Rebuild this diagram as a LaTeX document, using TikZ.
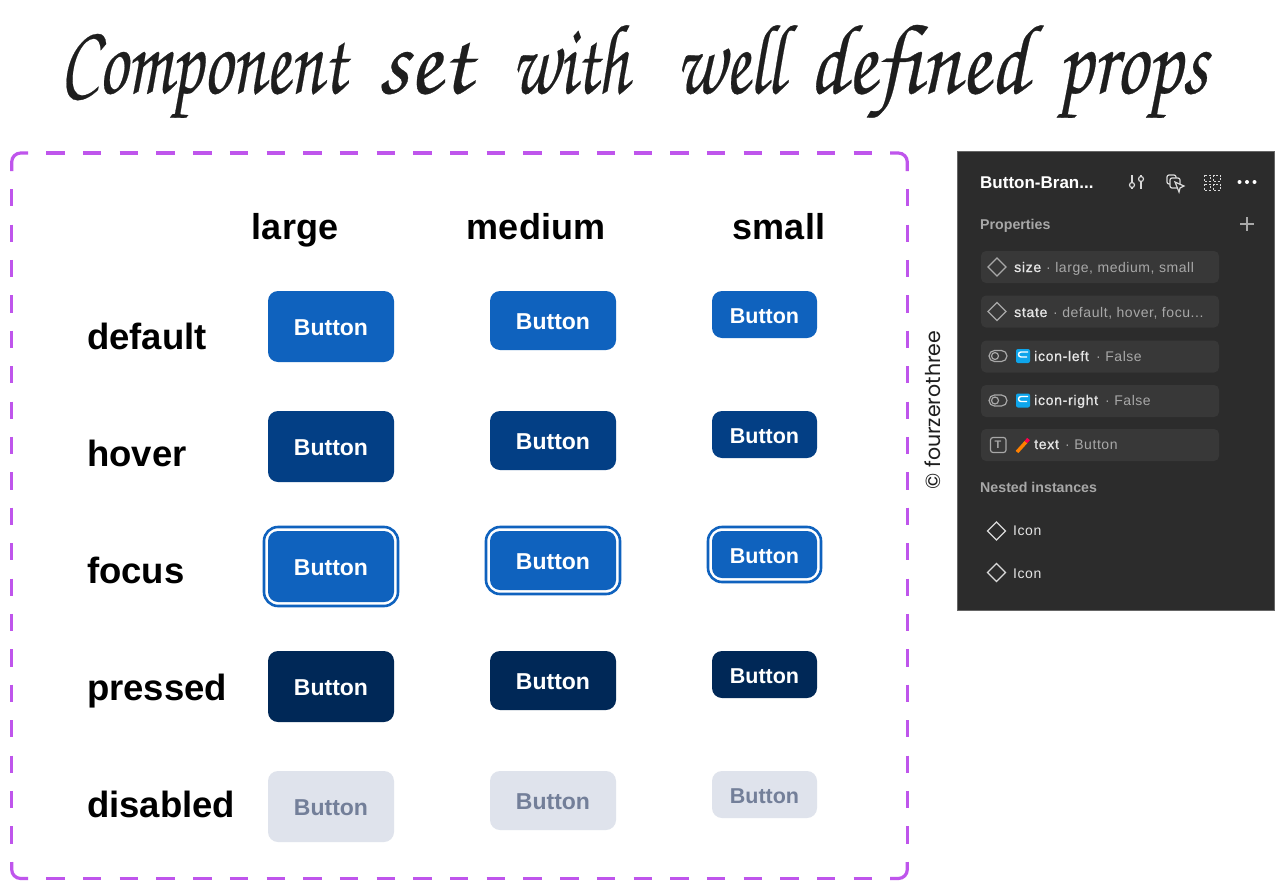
\documentclass[tikz,border=0pt]{standalone}
\usepackage{fontspec}
\setmainfont{Liberation Sans}
\newfontfamily\valfont{Liberation Sans}[LetterSpace=4]
\newfontfamily\namefont{Liberation Sans}[LetterSpace=5,FakeBold=1]
\newfontfamily\handfont{TeX Gyre Chorus}[FakeBold=0.3]
\newfontfamily\creditfont{Poppins}
\usetikzlibrary{positioning, shapes.geometric}
\definecolor{btnDefault}{HTML}{0F62BE}
\definecolor{btnHover}{HTML}{033F85}
\definecolor{btnPressed}{HTML}{002857}
\definecolor{btnDisabled}{HTML}{DFE3EC}
\definecolor{txtDisabled}{HTML}{737F99}
\definecolor{dashPurple}{HTML}{BF55EC}
\definecolor{panelBg}{HTML}{2C2C2C}
\definecolor{panelRow}{HTML}{383838}
\definecolor{panelGrey}{HTML}{A8A8A8}
\definecolor{inkBlack}{HTML}{1E1E1E}
\definecolor{chipBlue}{HTML}{0EA5EB}
\tikzset{
  btnbase/.style={inner sep=0pt,rounded corners=10pt,text=white,text height=18.8pt,text depth=0pt},
  btnlarge/.style={btnbase,minimum width=126pt,minimum height=71pt,font=\bfseries\fontsize{23}{23}\selectfont},
  btnmedium/.style={btnbase,minimum width=126pt,minimum height=59pt,font=\bfseries\fontsize{23}{23}\selectfont},
  btnsmall/.style={btnbase,text height=17.4pt,minimum width=105pt,minimum height=47pt,font=\bfseries\fontsize{21.5}{22}\selectfont},
  ringlarge/.style={btnlarge,minimum width=134pt,minimum height=79pt,rounded corners=14pt,fill=white,draw=btnDefault,line width=2.6pt},
  ringmedium/.style={btnmedium,minimum width=134pt,minimum height=67pt,rounded corners=14pt,fill=white,draw=btnDefault,line width=2.6pt},
  ringsmall/.style={btnsmall,minimum width=113pt,minimum height=55pt,rounded corners=14pt,fill=white,draw=btnDefault,line width=2.6pt},
  frameline/.style={dashPurple,line width=3.2pt},
  framehoriz/.style={frameline,dash pattern=on 18.4pt off 18.3pt,dash phase=18.4pt},
  framevert/.style={frameline,dash pattern=on 17.3pt off 18.1pt,dash phase=17.3pt},
  headlabel/.style={inner sep=0pt,anchor=base,text=black,font=\bfseries\fontsize{36}{36}\selectfont},
  rowlabel/.style={inner sep=0pt,anchor=base west,text=black,font=\bfseries\fontsize{36.5}{36}\selectfont},
  panelrow/.style={fill=panelRow,rounded corners=5pt,inner sep=0pt,minimum width=238pt,minimum height=32pt},
  panelhead/.style={inner sep=0pt,anchor=base west,text=panelGrey,font=\bfseries\fontsize{14.2}{14}\selectfont},
  propname/.style={inner sep=0pt,anchor=base west,text=white!90!black,font=\namefont\fontsize{14}{14}\selectfont},
  propval/.style={inner sep=0pt,anchor=base west,text=panelGrey,font=\valfont\fontsize{14}{14}\selectfont},
  propdia/.style={diamond,draw=panelGrey,line width=1.2pt,inner sep=0pt,minimum size=18.5pt},
  panelicon/.style={draw=white!85!black,line width=1.2pt},
  iconchip/.style={fill=chipBlue,rounded corners=2pt,inner sep=0pt,minimum size=14pt}
}
\begin{document}
\begin{tikzpicture}[x=1pt,y=-1pt]
    \useasboundingbox (0,0) rectangle (1283,889);
    \fill[white] (0,0) rectangle (1283,889);
    \node (title) at (60,93)[inner sep=0pt,anchor=base west,text=inkBlack,font=\handfont\fontsize{100}{100}\selectfont]{\scalebox{.723}[1]{Component}\hspace{32pt}\scalebox{.956}[1]{set}\hspace{40pt}\scalebox{.697}[1]{with}\hspace{48pt}\scalebox{.719}[1]{well}\hspace{25pt}\scalebox{.861}[1]{defined}\hspace{30pt}\scalebox{.797}[1]{props}};

    \draw[framehoriz] (28,153)--(890,153);
    \draw[framehoriz] (28,878.5)--(890,878.5);
    \draw[framevert] (11.7,171)--(11.7,862);
    \draw[framevert] (907.3,171)--(907.3,862);
    \draw[frameline,rounded corners=9pt] (11.7,171)--(11.7,153)--(28,153) (890,153)--(907.3,153)--(907.3,171) (907.3,862)--(907.3,878.5)--(890,878.5) (28,878.5)--(11.7,878.5)--(11.7,862);

    \node (headLarge) at (295,239)[headlabel]{large};
    \node (headMedium) at (536,239)[headlabel]{medium};
    \node (headSmall) at (779,239)[headlabel]{small};
    \node (rowDefault) at (87,349)[rowlabel]{default};
    \node (rowHover) at (87,466)[rowlabel]{hover};
    \node (rowFocus) at (87,583)[rowlabel]{focus};
    \node (rowPressed) at (87,700)[rowlabel]{pressed};
    \node (rowDisabled) at (87,817)[rowlabel]{disabled};

    \node (defaultL) at (331,326.5)[btnlarge,fill=btnDefault]{Button};
    \node (defaultM) at (553,320.5)[btnmedium,fill=btnDefault]{Button};
    \node (defaultS) at (764.5,314.5)[btnsmall,fill=btnDefault]{Button};
    \node (hoverL) at (331,446.5)[btnlarge,fill=btnHover]{Button};
    \node (hoverM) at (553,440.5)[btnmedium,fill=btnHover]{Button};
    \node (hoverS) at (764.5,434.5)[btnsmall,fill=btnHover]{Button};
    \node (ringL) at (331,566.5)[ringlarge]{};
    \node (ringM) at (553,560.5)[ringmedium]{};
    \node (ringS) at (764.5,554.5)[ringsmall]{};
    \node (focusL) at (331,566.5)[btnlarge,fill=btnDefault]{Button};
    \node (focusM) at (553,560.5)[btnmedium,fill=btnDefault]{Button};
    \node (focusS) at (764.5,554.5)[btnsmall,fill=btnDefault]{Button};
    \node (pressedL) at (331,686.5)[btnlarge,fill=btnPressed]{Button};
    \node (pressedM) at (553,680.5)[btnmedium,fill=btnPressed]{Button};
    \node (pressedS) at (764.5,674.5)[btnsmall,fill=btnPressed]{Button};
    \node (disabledL) at (331,806.5)[btnlarge,fill=btnDisabled,text=txtDisabled]{Button};
    \node (disabledM) at (553,800.5)[btnmedium,fill=btnDisabled,text=txtDisabled]{Button};
    \node (disabledS) at (764.5,794.5)[btnsmall,fill=btnDisabled,text=txtDisabled]{Button};

    \node (credit) at (933,410)[rotate=90,inner sep=0pt,text=inkBlack,font=\creditfont\fontsize{20.5}{20}\selectfont]{© fourzerothree};

    \draw[fill=panelBg,draw=black!60,line width=1pt] (957.5,151) rectangle (1274,610);
    \node (panelTitle) at (980,188)[propname,text=white,font=\bfseries\fontsize{17}{17}\selectfont]{Button-Bran...};
    \draw[panelicon] (1132,175)--(1132,189) (1141,175)--(1141,189);
    \draw[panelicon,fill=panelBg] (1132,185) circle (2.5) (1141,179) circle (2.5);
    \draw[panelicon,rounded corners=2pt] (1167,175) rectangle (1176,184);
    \draw[panelicon,rounded corners=2pt,fill=panelBg] (1170,178) rectangle (1180,188);
    \draw[panelicon,fill=panelBg] (1175,182)--(1184,186)--(1180,188)--(1179,192)--cycle;
    \draw[panelicon,dash pattern=on 2pt off 1.5pt,line width=1pt] (1204,175) rectangle (1210,181) (1213,175) rectangle (1220,181) (1204,184) rectangle (1210,190) (1213,184) rectangle (1220,190);
    \fill[white] (1239.5,182) circle (2) (1247,182) circle (2) (1254.5,182) circle (2);

    \node (propsHead) at (980,229)[panelhead]{Properties};
    \draw[panelGrey,line width=1.3pt] (1240,224)--(1254,224) (1247,217)--(1247,231);

    \node (rowSize) at (1100,267)[panelrow]{};
    \node (rowState) at (1100,311.5)[panelrow]{};
    \node (rowLeft) at (1100,356.5)[panelrow]{};
    \node (rowRight) at (1100,401)[panelrow]{};
    \node (rowText) at (1100,445)[panelrow]{};

    \node (diaSize) at (997,267)[propdia]{};
    \node (sizeName) at (1014,272)[propname]{size};
    \node (sizeVal) at (1046,272)[propval]{· large, medium, small};
    \node (diaState) at (997,311.5)[propdia]{};
    \node (stateName) at (1014,317)[propname]{state};
    \node (stateVal) at (1053,317)[propval]{· default, hover, focu...};

    \draw[panelGrey,line width=1.2pt,rounded corners=5.5pt] (989,350.5) rectangle (1007,361.5);
    \draw[panelGrey,line width=1.2pt] (995,356) circle (3.5);
    \node (chipLeft) at (1023,356)[iconchip]{};
    \draw[white,line width=1.4pt] (1028,352)--(1021,352) arc (-90:-270:2.5)--(1027,357);
    \node (leftName) at (1034,361)[propname]{icon-left};
    \node (leftVal) at (1096,361)[propval]{· False};

    \draw[panelGrey,line width=1.2pt,rounded corners=5.5pt] (989,395) rectangle (1007,406);
    \draw[panelGrey,line width=1.2pt] (995,400.5) circle (3.5);
    \node (chipRight) at (1023,400.5)[iconchip]{};
    \draw[white,line width=1.4pt] (1028,396.5)--(1021,396.5) arc (-90:-270:2.5)--(1027,401.5);
    \node (rightName) at (1034,405)[propname]{icon-right};
    \node (rightVal) at (1105,405)[propval]{· False};

    \draw[panelGrey,line width=1.2pt,rounded corners=2.5pt] (990.5,437.5) rectangle (1006,452.5);
    \node (textGlyph) at (998,445)[inner sep=0pt,text=panelGrey,font=\bfseries\fontsize{11}{11}\selectfont]{T};
    \draw[orange,line width=3.5pt] (1017,452)--(1026,442);
    \draw[red!70!magenta,line width=3.5pt] (1026,442)--(1028.5,439);
    \node (textName) at (1034,449)[propname]{text};
    \node (textVal) at (1065,449)[propval]{· Button};

    \node (nestedHead) at (980,492)[panelhead]{Nested instances};
    \node (diaIconA) at (996.5,531)[propdia,draw=white!85!black]{};
    \node (iconA) at (1013,535.5)[propval,text=white!90!black]{Icon};
    \node (diaIconB) at (996.5,572.5)[propdia,draw=white!85!black]{};
    \node (iconB) at (1013,578)[propval,text=white!90!black]{Icon};
\end{tikzpicture}
\end{document}
